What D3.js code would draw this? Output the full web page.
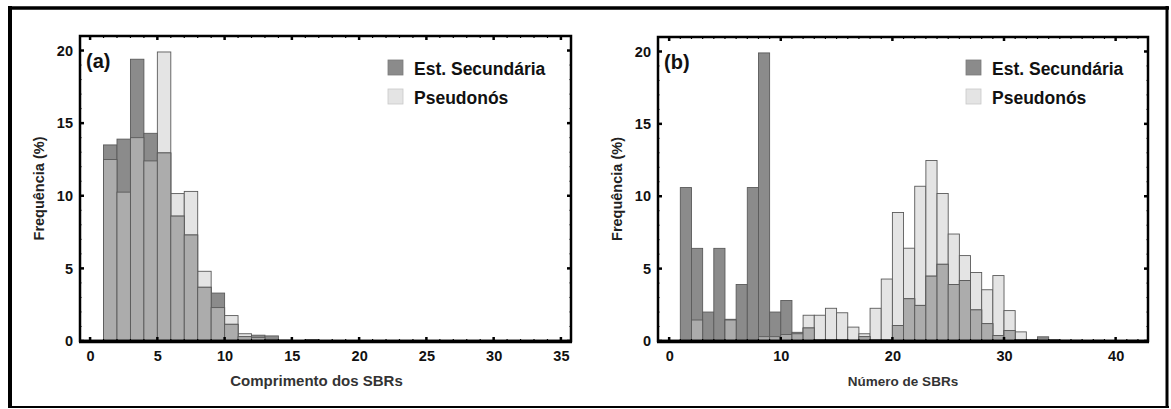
<!DOCTYPE html>
<html><head><meta charset="utf-8">
<script src="https://cdn.jsdelivr.net/npm/d3@7"></script>
<style>body{margin:0;background:#fff}svg{display:block}text{font-family:"Liberation Sans",Arial,sans-serif;font-weight:bold}</style>
</head><body>
<svg id="c" width="1171" height="409"></svg>
<script>
// Panel (a): histogram of SBR length, bins of width 1 starting at 1
const binStartA = 1;
const estA = [13.5, 13.9, 19.4, 14.3, 12.95, 8.6, 7.3, 3.7, 3.3, 1.15, 0.3, 0.4, 0.35, 0.05, 0, 0.1];
const pseA = [12.5, 10.25, 14.0, 12.4, 19.9, 10.15, 10.3, 4.8, 2.3, 1.75, 0.5, 0.25, 0.1, 0.05, 0, 0];
const xTicksA = [0, 5, 10, 15, 20, 25, 30, 35];
// Panel (b): histogram of number of SBRs
const binStartB = 1;
const estB = [10.6, 6.4, 2.0, 6.4, 1.5, 3.9, 10.6, 19.9, 2.0, 2.8, 0.6, 0.9, 0.1, 0.1, 0.1, 0.05, 0.3, 0.1, 0.1, 1.07, 2.92, 2.46, 4.48, 5.3, 3.9, 4.18, 2.15, 1.2, 0.38, 0.72, 0.1, 0.1, 0.29, 0.1, 0, 0.05, 0, 0.05, 0, 0, 0.05];
const pseB = [0, 1.45, 0, 0, 1.45, 0, 0, 0.3, 0.3, 0.45, 0.5, 1.78, 1.78, 2.26, 1.95, 0.96, 0.5, 2.26, 4.28, 8.88, 6.41, 10.69, 12.47, 10.19, 7.39, 5.9, 4.73, 3.54, 4.52, 2.1, 0.63, 0.1, 0.05, 0, 0.05, 0, 0, 0, 0, 0, 0];
const xTicksB = [0, 10, 20, 30, 40];
const yTicks = [0, 5, 10, 15, 20];
const seriesNames = ["Est. Secundária", "Pseudonós"];
const panelLabels = ["(a)", "(b)"];
const xTitles = ["Comprimento dos SBRs", "Número de SBRs"];
const yTitle = "Frequência (%)";

const svg = d3.select("#c");
const C_DARK = "#8b8b8b", C_LIGHT = "#e4e4e4", C_MID = "#acacac", C_EDGE = "#5a5a5a";

// outer border
svg.append("line").attr("x1",10).attr("x2",10).attr("y1",6).attr("y2",408).attr("stroke","#000").attr("stroke-width",4);
svg.append("line").attr("x1",8).attr("x2",1169).attr("y1",8).attr("y2",8).attr("stroke","#000").attr("stroke-width",3.5);
svg.append("line").attr("x1",1167).attr("x2",1167).attr("y1",6).attr("y2",408).attr("stroke","#000").attr("stroke-width",3);
svg.append("line").attr("x1",8).attr("x2",1169).attr("y1",407).attr("y2",407).attr("stroke","#000").attr("stroke-width",2);

function panel(cfg){
  const g = svg.append("g");
  const x = d3.scaleLinear().domain(cfg.xd).range([cfg.L, cfg.R]);
  const y = d3.scaleLinear().domain([0,21]).range([cfg.B, cfg.T]);
  const n = cfg.est.length;
  const idx = d3.range(n);
  const bars = g.append("g");
  function draw(vals, fill){
    bars.selectAll(null).data(idx.filter(i=>vals(i)>0)).enter().append("rect")
      .attr("x", i=>x(cfg.start+i)).attr("width", i=>x(cfg.start+i+1)-x(cfg.start+i))
      .attr("y", i=>y(vals(i))).attr("height", i=>y(0)-y(vals(i)))
      .attr("fill", fill).attr("stroke", C_EDGE).attr("stroke-width",0.9);
  }
  draw(i=>cfg.pse[i], C_LIGHT);
  draw(i=>cfg.est[i], C_DARK);
  draw(i=>Math.min(cfg.est[i], cfg.pse[i]), C_MID);

  const axB = d3.axisBottom(x).tickValues(cfg.xt).tickSize(0).tickPadding(10).tickFormat(d3.format("d"));
  const gb = g.append("g").attr("transform",`translate(0,${cfg.B})`).call(axB);
  gb.select(".domain").remove();
  gb.selectAll("text").attr("font-size",14.5).attr("fill","#111").attr("font-family","Liberation Sans, Arial").attr("font-weight","bold");
  const axL = d3.axisLeft(y).tickValues(yTicks).tickSize(0).tickPadding(7).tickFormat(d3.format("d"));
  const gl = g.append("g").attr("transform",`translate(${cfg.L},0)`).call(axL);
  gl.select(".domain").remove();
  gl.selectAll("text").attr("font-size",14.5).attr("fill","#111").attr("font-family","Liberation Sans, Arial").attr("font-weight","bold");

  const tk = g.append("g").attr("stroke","#000").attr("stroke-width",2);
  const minorX = d3.range(Math.ceil(cfg.xd[0]), Math.floor(cfg.xd[1])+1);
  minorX.forEach(v=>{
    const big = cfg.xt.includes(v);
    const len = big?4:2;
    tk.append("line").attr("x1",x(v)).attr("x2",x(v)).attr("y1",cfg.T).attr("y2",cfg.T+len).attr("stroke-width", big?2.5:1.2);
    tk.append("line").attr("x1",x(v)).attr("x2",x(v)).attr("y1",cfg.B).attr("y2",cfg.B-len).attr("stroke-width", big?2.5:1.2);
  });
  d3.range(0,21).forEach(v=>{
    const big = yTicks.includes(v);
    const len = big?4:1.5;
    tk.append("line").attr("y1",y(v)).attr("y2",y(v)).attr("x1",cfg.L).attr("x2",cfg.L+len).attr("stroke-width", big?2.5:1);
    tk.append("line").attr("y1",y(v)).attr("y2",y(v)).attr("x1",cfg.R).attr("x2",cfg.R-len).attr("stroke-width", big?2.5:1);
  });

  g.append("rect").attr("x",cfg.L).attr("y",cfg.T).attr("width",cfg.R-cfg.L).attr("height",cfg.B-cfg.T)
    .attr("fill","none").attr("stroke","#000").attr("stroke-width",2.5);
  g.append("line").attr("x1",cfg.L-1).attr("x2",cfg.R+1).attr("y1",cfg.B+0.5).attr("y2",cfg.B+0.5).attr("stroke","#000").attr("stroke-width",3.5);

  g.append("text").attr("x",cfg.L+6).attr("y",cfg.T+32).attr("font-size",20).attr("fill","#111").text(cfg.label);
  g.append("text").attr("x",(cfg.L+cfg.R)/2 + cfg.xtOff).attr("y",386).attr("text-anchor","middle").attr("font-size",cfg.xtSize).attr("fill","#333").text(cfg.xtitle);
  g.append("text").attr("transform",`translate(${cfg.L-36},${(cfg.T+cfg.B)/2}) rotate(-90)`).attr("text-anchor","middle").attr("font-size",14.5).attr("fill","#222").text(yTitle);

  const lg = g.append("g");
  [C_DARK, C_LIGHT].forEach((c,i)=>{
    lg.append("rect").attr("x",cfg.legX).attr("y",60+i*29).attr("width",15).attr("height",15)
      .attr("fill",c).attr("stroke", i? "#c8c8c8":"#7a7a7a").attr("stroke-width",0.8);
    lg.append("text").attr("x",cfg.legX+26).attr("y",75+i*29).attr("font-size",17.5).attr("fill","#111").text(seriesNames[i]);
  });
}

panel({L:80, R:571, T:36, B:341, xd:[-0.75,35.75], start:binStartA, est:estA, pse:pseA, xt:xTicksA, label:panelLabels[0], xtitle:xTitles[0], xtOff:-9, xtSize:15, legX:388});
panel({L:658, R:1148, T:37, B:341, xd:[-1,42.9], start:binStartB, est:estB, pse:pseB, xt:xTicksB, label:panelLabels[1], xtitle:xTitles[1], xtOff:0, xtSize:13.5, legX:966});
</script>
</body></html>
